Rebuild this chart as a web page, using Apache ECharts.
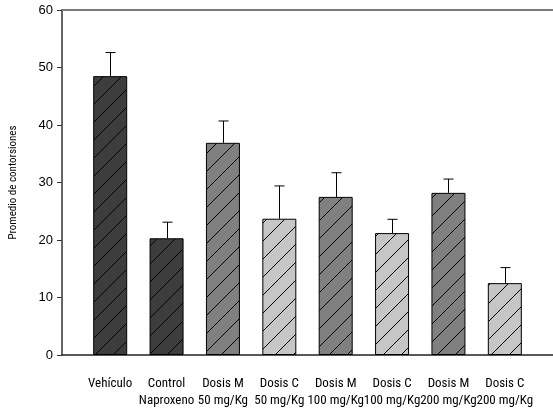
<!DOCTYPE html>
<html><head><meta charset="utf-8">
<script src="https://cdn.jsdelivr.net/npm/echarts@6/dist/echarts.min.js"></script>
<style>html,body{margin:0;padding:0;background:#fff}#c{width:553px;height:413px}</style>
</head><body><div id="c"></div>
<script>
var categories = ['Vehículo', 'Control\nNaproxeno', 'Dosis M\n50 mg/Kg', 'Dosis C\n50 mg/Kg', 'Dosis M\n100 mg/Kg', 'Dosis C\n100 mg/Kg', 'Dosis M\n200 mg/Kg', 'Dosis C\n200 mg/Kg'];
var means = [48.5, 20.3, 36.9, 23.7, 27.5, 21.2, 28.2, 12.5];
var errors = [4.1, 2.8, 3.8, 5.7, 4.2, 2.4, 2.4, 2.7];
var groups = ['dark', 'dark', 'mid', 'light', 'mid', 'light', 'mid', 'light'];
var yTicks = [0, 10, 20, 30, 40, 50, 60];

var fills = {dark: '#3d3d3d', mid: '#808080', light: '#c6c6c6'};
function hatch(bg) {
  var s = 18, c = document.createElement('canvas');
  c.width = s; c.height = s;
  var g = c.getContext('2d');
  g.fillStyle = bg; g.fillRect(0, 0, s, s);
  g.strokeStyle = '#000'; g.lineWidth = 1;
  g.beginPath();
  g.moveTo(-2, s + 2); g.lineTo(s + 2, -2);
  g.moveTo(-2, 2); g.lineTo(2, -2);
  g.moveTo(s - 2, s + 2); g.lineTo(s + 2, s - 2);
  g.stroke();
  return {image: c, repeat: 'repeat'};
}
var patterns = {dark: hatch(fills.dark), mid: hatch(fills.mid), light: hatch(fills.light)};

var barData = means.map(function (v, i) {
  return {value: v, itemStyle: {color: patterns[groups[i]]}};
});
var errData = means.map(function (v, i) { return [i, v, v + errors[i]]; });

var chart = echarts.init(document.getElementById('c'), null, {renderer: 'canvas'});
var narrow = "'Roboto Condensed', 'Liberation Sans', Arial, sans-serif";
chart.setOption({
  animation: false,
  grid: [
    {left: 60, right: 0, top: 10, bottom: 58},
    {left: 82, right: 20, top: 10, bottom: 58}
  ],
  xAxis: [
    {gridIndex: 0, type: 'value', min: 0, max: 1, position: 'bottom',
     axisLine: {show: true, lineStyle: {color: '#222', width: 1.5}},
     axisTick: {show: false}, axisLabel: {show: false}, splitLine: {show: false}},
    {gridIndex: 0, type: 'value', min: 0, max: 1, position: 'top',
     axisLine: {show: true, lineStyle: {color: '#7a7a7a', width: 2}},
     axisTick: {show: false}, axisLabel: {show: false}, splitLine: {show: false}},
    {gridIndex: 1, type: 'category', data: categories,
     axisLine: {show: false}, axisTick: {show: false},
     axisLabel: {interval: 0, margin: 20, color: '#000', fontFamily: narrow, fontSize: 13, lineHeight: 17}}
  ],
  yAxis: [
    {gridIndex: 0, type: 'value', min: 0, max: 60, interval: 10,
     name: 'Promedio de contorsiones', nameLocation: 'middle', nameGap: 43,
     nameTextStyle: {fontFamily: narrow, fontSize: 11, color: '#000'},
     axisLine: {show: true, lineStyle: {color: '#333', width: 1.5}},
     axisTick: {show: true, length: 5, lineStyle: {color: '#333'}},
     axisLabel: {color: '#000', fontFamily: "'Liberation Sans', Arial, sans-serif", fontSize: 13, margin: 9,
       formatter: function (v) { return yTicks.indexOf(v) >= 0 ? String(v) : ''; }},
     splitLine: {show: false}},
    {gridIndex: 1, type: 'value', min: 0, max: 60, show: false}
  ],
  series: [
    {type: 'bar', xAxisIndex: 2, yAxisIndex: 1, barWidth: 34, data: barData,
     itemStyle: {borderColor: '#000', borderWidth: 1}},
    {type: 'custom', xAxisIndex: 2, yAxisIndex: 1, data: errData, z: 5,
     renderItem: function (params, api) {
       var x = api.value(0);
       var p0 = api.coord([x, api.value(1)]);
       var p1 = api.coord([x, api.value(2)]);
       var cx = Math.round(p0[0]) + 0.5;
       var st = {stroke: '#000', lineWidth: 1};
       return {type: 'group', children: [
         {type: 'line', shape: {x1: cx, y1: p0[1], x2: cx, y2: p1[1]}, style: st},
         {type: 'line', shape: {x1: cx - 5, y1: p1[1], x2: cx + 5, y2: p1[1]}, style: st}
       ]};
     }}
  ]
});
</script></body></html>
